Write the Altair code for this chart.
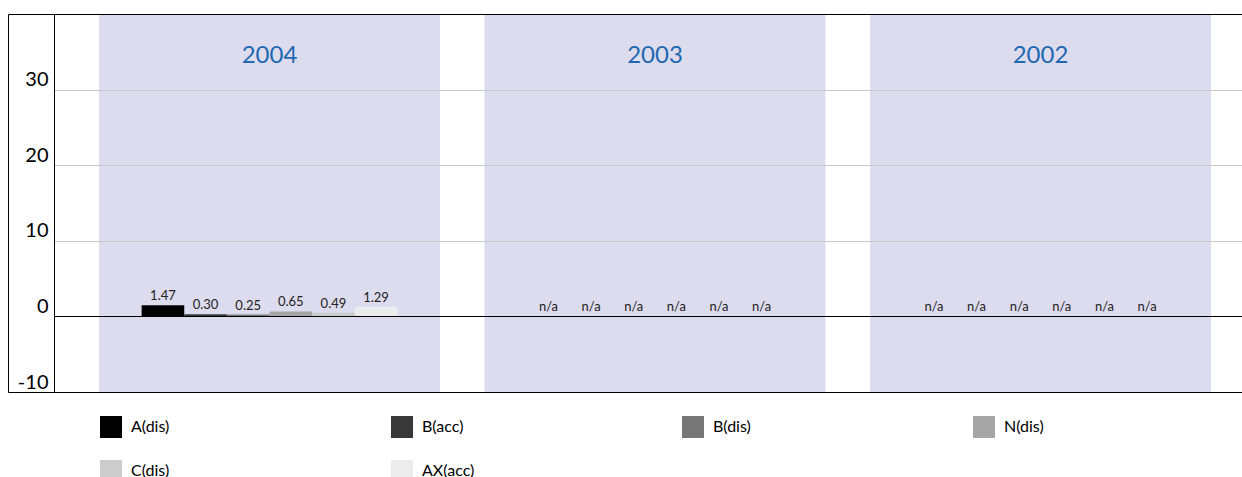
import altair as alt
import pandas as pd

# Values per reporting year (None = not available)
years = ["2004", "2003", "2002"]
series = ["A(dis)", "B(acc)", "B(dis)", "N(dis)", "C(dis)", "AX(acc)"]
values_2004 = [1.47, 0.30, 0.25, 0.65, 0.49, 1.29]
values_2003 = [None, None, None, None, None, None]
values_2002 = [None, None, None, None, None, None]
series_colors = ["#000000", "#383838", "#777777", "#a6a6a6", "#cccccc", "#ececec"]
y_ticks = [-10, 0, 10, 20, 30, 40]

rows = []
for year, vals in zip(years, [values_2004, values_2003, values_2002]):
    for name, v in zip(series, vals):
        rows.append({"year": year, "series": name, "value": v})
df = pd.DataFrame(rows)
year_df = pd.DataFrame({"year": years})

FONT = "Lato"

x_scale = alt.Scale(domain=years, paddingInner=0.1154, paddingOuter=0.0986, align=0.592)
off_scale = alt.Scale(domain=series, paddingInner=0, paddingOuter=1)
y_scale = alt.Scale(domain=[-10, 40], nice=False, zero=False)

bottom_axis = alt.Axis(orient="bottom", title=None, labels=False, ticks=False,
                       domain=True, domainColor="black", domainWidth=1, grid=False, zindex=1)

main_y_axis = alt.Axis(
    orient="left", values=y_ticks, title=None,
    domain=True, domainColor="black", domainWidth=1,
    ticks=True, tickSize=46, tickWidth=1,
    tickColor={"condition": {"test": "datum.value == -10 || datum.value == 40", "value": "black"},
               "value": "transparent"},
    labelExpr="datum.value == 40 ? '' : toString(datum.value)",
    labelPadding=-40, labelFontSize=20, labelFont=FONT, labelColor="black",
    labelAlign="right", labelBaseline="alphabetic", labelOffset=-4,
    grid=True, gridWidth=1,
    gridColor={"condition": {"test": "datum.value == 0 || datum.value == -10 || datum.value == 40",
                             "value": "black"},
               "value": "#c8c8c8"},
    zindex=1,
)

outer_y_axis = alt.Axis(orient="left", offset=46, title=None, domain=True, domainColor="black",
                        domainWidth=1, labels=False, ticks=False, grid=False, zindex=1)

top_axis = alt.Axis(orient="top", title=None, domain=True, domainColor="black", domainWidth=1,
                    ticks=False, labels=True, labelAngle=0, labelPadding=-41,
                    labelBaseline="middle", labelFontSize=24, labelFont=FONT,
                    labelColor="#1f68b2", grid=False, zindex=1)

# Shaded year panels
panels = alt.Chart(year_df).mark_rect(color="#dcdcee").encode(
    x=alt.X("year:N", scale=x_scale, axis=bottom_axis),
)

bars = alt.Chart(df).transform_filter("isValid(datum.value)").mark_bar().encode(
    x=alt.X("year:N", scale=x_scale, axis=None),
    xOffset=alt.XOffset("series:N", scale=off_scale),
    y=alt.Y("value:Q", scale=y_scale, axis=main_y_axis),
    color=alt.Color(
        "series:N",
        scale=alt.Scale(domain=series, range=series_colors),
        legend=alt.Legend(
            orient="none", legendX=46, legendY=402, title=None, columns=4,
            direction="horizontal",
            symbolType="square", symbolSize=484, symbolStrokeWidth=0, symbolOpacity=1,
            labelFontSize=16, labelFont=FONT, labelColor="black", labelOffset=9,
            columnPadding=207, rowPadding=22, gridAlign="all", padding=0,
        ),
    ),
)

value_labels = alt.Chart(df).transform_filter("isValid(datum.value)").mark_text(
    baseline="alphabetic", dy=-5, fontSize=13, font=FONT, color="#222222"
).encode(
    x=alt.X("year:N", scale=x_scale, axis=None),
    xOffset=alt.XOffset("series:N", scale=off_scale),
    y=alt.Y("value:Q", scale=y_scale, axis=None),
    text=alt.Text("value:Q", format=".2f"),
)

na_labels = alt.Chart(df).transform_filter("!isValid(datum.value)").transform_calculate(
    base="0", label="'n/a'"
).mark_text(
    baseline="alphabetic", dy=-5, fontSize=13, font=FONT, color="#222222"
).encode(
    x=alt.X("year:N", scale=x_scale, axis=top_axis),
    xOffset=alt.XOffset("series:N", scale=off_scale),
    y=alt.Y("base:Q", scale=y_scale, axis=outer_y_axis),
    text="label:N",
)

chart = alt.layer(panels, bars, value_labels, na_labels).resolve_axis(
    x="independent", y="independent"
).properties(
    width=1188, height=378,
    autosize=alt.AutoSizeParams(type="none"),
    padding={"left": 54, "top": 14, "right": 0, "bottom": 85},
    background="white",
).configure_view(stroke=None)

chart.save("out.html", embed_options={"renderer": "svg", "actions": False})
